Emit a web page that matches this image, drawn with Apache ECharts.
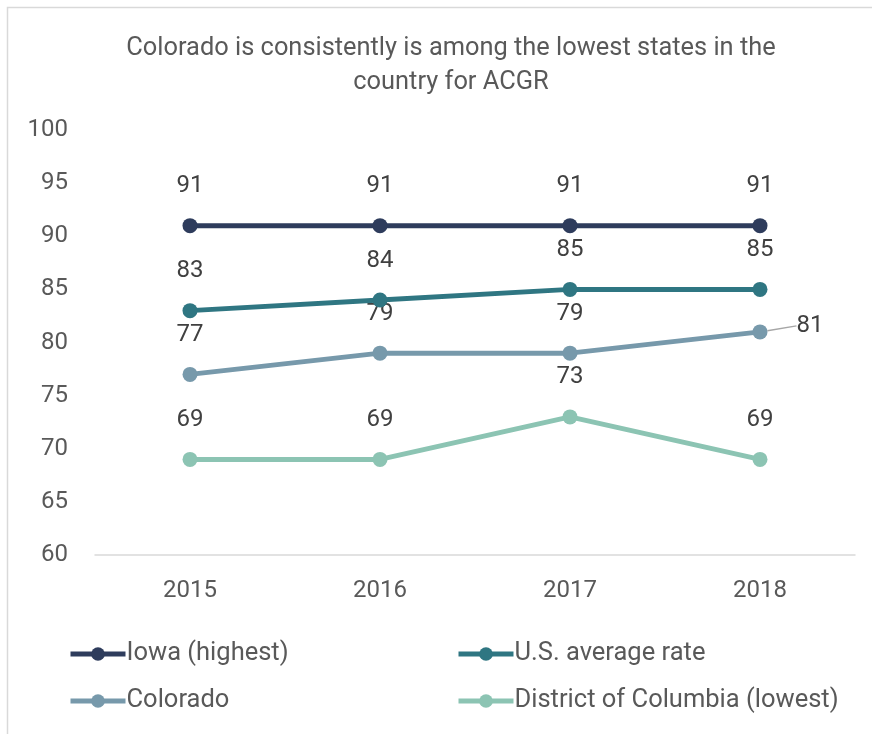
<!DOCTYPE html>
<html>
<head>
<meta charset="utf-8">
<script src="https://cdn.jsdelivr.net/npm/echarts@6/dist/echarts.min.js"></script>
<style>html,body{margin:0;padding:0;background:#fff}#c{width:872px;height:734px}</style>
</head>
<body>
<div id="c"></div>
<script>
const years = ['2015', '2016', '2017', '2018'];
const iowa = [91, 91, 91, 91];
const usAvg = [83, 84, 85, 85];
const colorado = [77, 79, 79, 81];
const dc = [69, 69, 73, 69];
const seriesNames = ['Iowa (highest)', 'U.S. average rate', 'Colorado', 'District of Columbia (lowest)'];
const colors = ['#2e3c5c', '#2f7682', '#7799ab', '#8cc4b3'];
const FONT = 'Roboto, "Open Sans", sans-serif';

const chart = echarts.init(document.getElementById('c'), null, {renderer: 'canvas'});

function mk(name, data, color, idx) {
  return {
    name: name,
    type: 'line',
    data: data.map((v, i) => {
      if (idx === 2 && i === 3) {
        return {
          value: v,
          label: {position: 'right', distance: 6, padding: [0, 0, 0, 9]},
          labelLine: {show: true, lineStyle: {color: '#a6a6a6', width: 1.5}}
        };
      }
      return v;
    }),
    symbol: 'circle',
    symbolSize: 15,
    color: color,
    lineStyle: {width: 5, color: color},
    itemStyle: {color: color},
    label: {
      show: true,
      position: 'top',
      distance: 20,
      fontFamily: FONT,
      fontSize: 24,
      color: '#404040'
    },
    labelLine: {show: false},
    labelLayout: idx === 2 ? function (p) {
      if (p.dataIndex === 3) return {dx: 14, dy: -6};
      return {};
    } : undefined,
    z: 10 - idx
  };
}

const legendCommon = {
  orient: 'vertical',
  top: 636,
  itemWidth: 55, itemHeight: 17, itemGap: 21,
  lineStyle: {width: 5},
  textStyle: {fontFamily: FONT, fontSize: 25.5, color: '#595959', lineHeight: 26, padding: [0, 0, 0, -4]}
};

chart.setOption({
  animation: false,
  backgroundColor: '#fff',
  title: {
    text: 'Colorado is consistently is among the lowest states in the\ncountry for ACGR',
    left: 446,
    top: 27,
    textAlign: 'center',
    textStyle: {fontFamily: FONT, fontSize: 25.4, fontWeight: 'normal', color: '#595959', lineHeight: 34}
  },
  graphic: [{
    type: 'rect', left: 5, top: 5, silent: true,
    shape: {width: 900, height: 800},
    style: {fill: 'none', stroke: '#d9d9d9', lineWidth: 1.5}
  }],
  legend: [
    Object.assign({data: [seriesNames[0], seriesNames[2]], left: 63}, legendCommon),
    Object.assign({data: [seriesNames[1], seriesNames[3]], left: 451}, legendCommon)
  ],
  grid: {left: 95, right: 17, top: 130, bottom: 179, containLabel: false},
  xAxis: {
    type: 'category',
    data: years,
    boundaryGap: true,
    axisLine: {lineStyle: {color: '#d9d9d9', width: 1.5}},
    axisTick: {show: false},
    axisLabel: {fontFamily: FONT, fontSize: 24, color: '#595959', margin: 24}
  },
  yAxis: {
    type: 'value',
    min: 60, max: 100, interval: 5,
    axisLine: {show: false},
    axisTick: {show: false},
    splitLine: {show: false},
    axisLabel: {fontFamily: FONT, fontSize: 24, color: '#595959', margin: 27}
  },
  series: [
    mk(seriesNames[0], iowa, colors[0], 0),
    mk(seriesNames[1], usAvg, colors[1], 1),
    mk(seriesNames[2], colorado, colors[2], 2),
    mk(seriesNames[3], dc, colors[3], 3)
  ]
});
</script>
</body>
</html>
